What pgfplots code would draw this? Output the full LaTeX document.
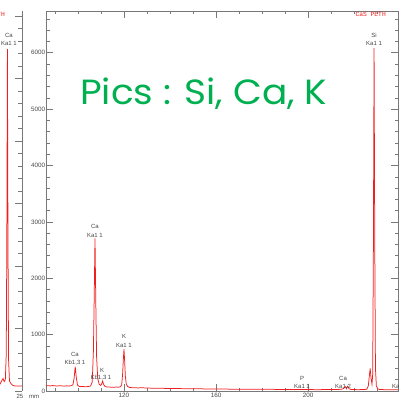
\documentclass[border=0pt]{standalone}
\usepackage{fontspec}
\setmainfont{Liberation Sans}
\newfontfamily\titlefont{Poppins}
\newfontfamily\monofont{Liberation Mono}
\usepackage{pgfplots}
\pgfplotsset{compat=1.18}

\definecolor{spec}{RGB}{240,30,30}
\definecolor{note}{RGB}{0,176,80}
\definecolor{axgray}{RGB}{120,120,120}
\definecolor{lblgray}{RGB}{70,70,70}

\pgfplotsset{
  spectrum/.style={
    scale only axis,
    tick align=inside,
    axis line style={axgray, line width=0.6pt},
    every tick/.style={axgray, line width=0.5pt},
    major tick length=7pt,
    minor tick length=3.5pt,
    tick label style={font=\fontsize{6.3}{7}\selectfont, text=lblgray},
    /pgf/number format/assume math mode=true,
    /pgf/number format/1000 sep={},
  }
}

\begin{document}
\begin{tikzpicture}[x=1pt,y=1pt]

% left spectrum (only its right edge is in view)
\begin{axis}[spectrum,
  at={(-100pt,6pt)}, anchor=south west,
  width=122pt, height=380pt,
  xmin=180, xmax=233.04, ymin=0, ymax=6080,
  axis x line=none, axis y line*=right,
  ytick={0,1000,...,7000}, minor y tick num=4,
  yticklabels={},
  clip=true]
\addplot[spec, line width=0.75pt] coordinates {
(180,85) (200,82) (210,88) (218,85) (220,80) (222,90) (223.5,110) (224.3,170)
(224.8,200) (225.3,150) (225.8,180) (226.2,600) (226.45,2500) (226.7,5470)
(226.95,2400) (227.2,500) (227.6,160) (228.2,120) (229,90) (230,80)
(231,82) (232,78) (233.04,80)
};
\end{axis}

% main spectrum
\begin{axis}[spectrum,
  at={(46pt,6pt)}, anchor=south west,
  width=352pt, height=380pt,
  xmin=86.1, xmax=239.1, ymin=0, ymax=6740,
  xtick={80,120,...,240}, minor x tick num=3,
  ytick={0,1000,...,7000}, minor y tick num=4,
  yticklabel style={inner sep=0.6pt},
  xticklabel style={inner sep=1.5pt},
  clip=true]
\addplot[spec, line width=0.75pt] coordinates {
(86.1,92) (87,95) (88,90) (89,97) (90,92) (91,88) (92,94) (93,90) (94,86)
(95,92) (96,88) (97,95) (97.8,110) (98.3,220) (98.8,431) (99.3,230)
(99.8,105) (100.5,82) (101.5,80) (102.5,78) (103.5,75) (104.5,80)
(105.5,90) (106.2,160) (106.7,700) (107.0,1500) (107.4,2707) (107.8,1400)
(108.1,600) (108.6,220) (109.2,120) (109.8,100) (110.2,115) (110.7,175)
(111.2,110) (111.8,80) (112.5,72) (113.5,70) (114.5,68) (115.5,66)
(116.5,70) (117.5,68) (118.5,75) (119.0,110) (119.4,300) (119.7,550)
(120.0,742) (120.3,520) (120.6,260) (121.0,120) (121.6,80) (122.5,62)
(124,58) (126,55) (128,57) (130,52) (133,50) (136,48) (139,45) (142,46)
(145,42) (148,40) (151,41) (154,38) (157,36) (160,37) (164,34) (168,32)
(172,33) (176,30) (180,29) (184,30) (188,27) (192,28) (196,26) (200,25)
(204,24) (208,25) (211,26) (213,28) (214.5,30) (215.5,45) (216.2,80)
(216.7,40) (217.2,85) (217.8,40) (218.6,28) (220,25) (222,24) (224,26)
(225.5,30) (226.2,90) (226.6,250) (227.0,400) (227.4,220) (227.8,120)
(228.1,300) (228.4,2500) (228.7,6082) (229.0,2600) (229.3,400) (229.7,90)
(230.3,40) (231,28) (233,24) (235,22) (237,22) (239.1,20)
};
\end{axis}

% line identifications
\begin{scope}[every node/.style={font=\fontsize{6}{7}\selectfont, text=lblgray, inner sep=0pt, anchor=base}]
  \node at (9,359)   {Ca};    \node at (9,351)   {Ka1 1};
  \node at (75,41)   {Ca};    \node at (75,33)   {Kb1,3 1};
  \node at (95,169)  {Ca};    \node at (95,160)  {Ka1 1};
  \node at (102,25)  {K};     \node at (101,18)  {Kb1,3 1};
  \node at (124,59)  {K};     \node at (124,50)  {Ka1 1};
  \node at (302,17)  {P};     \node at (302,9)   {Ka1 1};
  \node at (343,17)  {Ca};    \node at (343,9)   {Ka1,2};
  \node at (374,359) {Si};    \node at (374,351) {Ka1 1};
  \node[anchor=base west] at (392,9) {Ka1 1};
  \node at (20,-1)   {25};    \node at (34,-1)   {mm};
\end{scope}

% instrument tags
\node[font=\monofont\fontsize{6.3}{7}\selectfont, text=spec, anchor=base east, inner sep=0pt] at (386,380) {CaS PETH};
\node[font=\monofont\fontsize{6.3}{7}\selectfont, text=spec, anchor=base east, inner sep=0pt] at (5,380) {CaS PETH};

% note
\node[font=\titlefont\fontsize{35}{40}\selectfont, text=note, anchor=base west, inner sep=0pt, xscale=1.07] at (80,292) {Pics : Si, Ca, K};

\pgfresetboundingbox
\useasboundingbox (0,0) rectangle (399,397);
\end{tikzpicture}
\end{document}
